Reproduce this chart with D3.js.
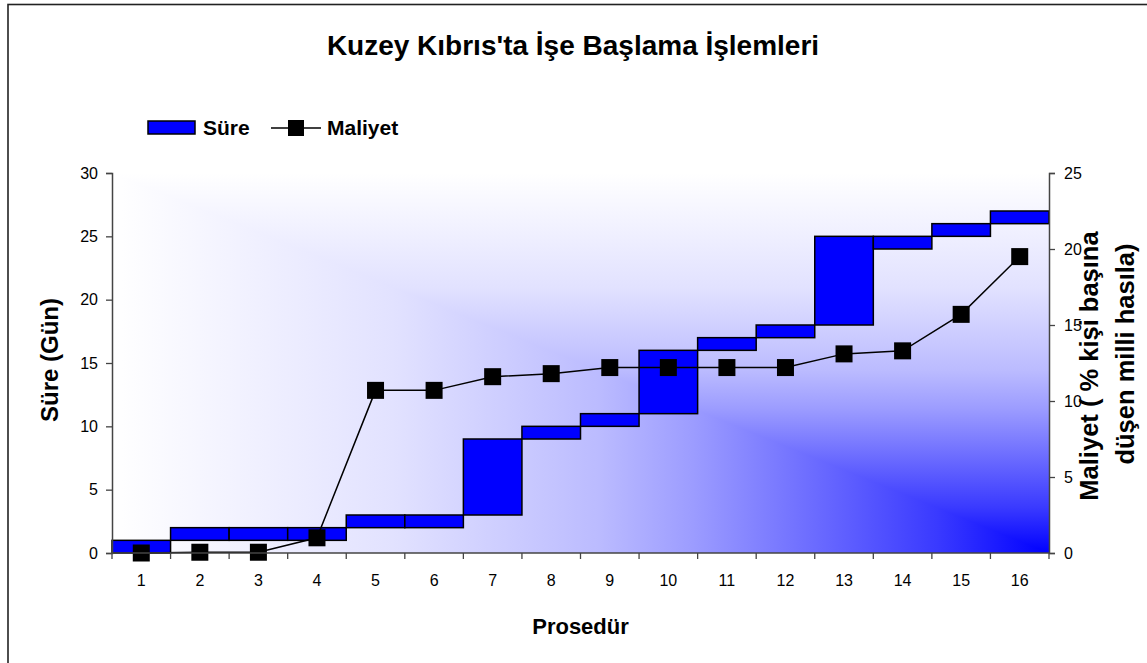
<!DOCTYPE html>
<html>
<head>
<meta charset="utf-8">
<script src="https://cdn.jsdelivr.net/npm/d3@7"></script>
<style>
  body { margin: 0; background: #fff; }
  svg { display: block; font-family: "Liberation Sans", Arial, sans-serif; }
</style>
</head>
<body>
<div id="chart"></div>
<script>
// procedures on the x axis
const categories = ["1","2","3","4","5","6","7","8","9","10","11","12","13","14","15","16"];
// Süre: each bar floats from start day to end day
const sureStart = [0, 1, 1, 1, 2, 2, 3, 9, 10, 11, 16, 17, 18, 24, 25, 26];
const sureEnd   = [1, 2, 2, 2, 3, 3, 9, 10, 11, 16, 17, 18, 25, 25, 26, 27];
// Maliyet (% of income per capita), right axis
const maliyet = [0, 0.05, 0.05, 1.0, 10.7, 10.7, 11.6, 11.8, 12.2, 12.2, 12.2, 12.2, 13.1, 13.3, 15.7, 19.5];
const leftTicks = [0, 5, 10, 15, 20, 25, 30];
const rightTicks = [0, 5, 10, 15, 20, 25];

const width = 1147, height = 663;
const plot = { left: 112, right: 1049, top: 173, bottom: 553 };

const svg = d3.select("#chart").append("svg")
  .attr("width", width)
  .attr("height", height);

// outer frame (only left & top edges visible)
svg.append("rect")
  .attr("x", 8).attr("y", 4.5)
  .attr("width", 1300).attr("height", 800)
  .attr("fill", "none")
  .attr("stroke", "#222")
  .attr("stroke-width", 1.6);

const x = d3.scaleBand().domain(categories).range([plot.left, plot.right]).padding(0);
const yLeft = d3.scaleLinear().domain([0, 30]).range([plot.bottom, plot.top]);
const yRight = d3.scaleLinear().domain([0, 25]).range([plot.bottom, plot.top]);

// corner gradient: white at top-left, blue at bottom-right
const defs = svg.append("defs");
const rampStops = [
  [0, "#ffffff"], [0.3, "#e2e2ff"], [0.52, "#bbbbff"],
  [0.62, "#9c9cff"], [0.88, "#3a3aff"], [1, "#0000ff"]
];
function addGrad(id, x1, y1, x2, y2) {
  const g = defs.append("linearGradient")
    .attr("id", id)
    .attr("gradientUnits", "userSpaceOnUse")
    .attr("x1", x1).attr("y1", y1).attr("x2", x2).attr("y2", y2);
  rampStops.forEach(s => g.append("stop").attr("offset", s[0]).attr("stop-color", s[1]));
}
addGrad("gradV", 0, plot.top, 0, plot.bottom);
addGrad("gradH", plot.left, 0, plot.right, 0);

svg.append("rect")
  .attr("x", plot.left).attr("y", plot.top)
  .attr("width", plot.right - plot.left)
  .attr("height", plot.bottom - plot.top)
  .attr("fill", "url(#gradV)");
svg.append("path")
  .attr("d", `M${plot.left},${plot.top}L${plot.right},${plot.bottom}L${plot.left},${plot.bottom}Z`)
  .attr("fill", "url(#gradH)");

// floating bars
svg.append("g").selectAll("rect")
  .data(categories)
  .join("rect")
  .attr("x", d => x(d))
  .attr("width", x.bandwidth())
  .attr("y", (d, i) => yLeft(sureEnd[i]))
  .attr("height", (d, i) => yLeft(sureStart[i]) - yLeft(sureEnd[i]))
  .attr("fill", "#0000ff")
  .attr("stroke", "#000")
  .attr("stroke-width", 1.5);

// cost line
const line = d3.line()
  .x((d, i) => x(categories[i]) + x.bandwidth() / 2)
  .y(d => yRight(d));
svg.append("path")
  .datum(maliyet)
  .attr("d", line)
  .attr("fill", "none")
  .attr("stroke", "#000")
  .attr("stroke-width", 1.5);

const mk = 17;
svg.append("g").selectAll("rect")
  .data(maliyet)
  .join("rect")
  .attr("x", (d, i) => x(categories[i]) + x.bandwidth() / 2 - mk / 2)
  .attr("y", d => yRight(d) - mk / 2)
  .attr("width", mk).attr("height", mk)
  .attr("fill", "#000");

// axes
const axisColor = "#444";
const gl = svg.append("g")
  .attr("transform", `translate(${plot.left},0)`)
  .call(d3.axisLeft(yLeft).tickValues(leftTicks).tickSize(6).tickPadding(8));
const gr = svg.append("g")
  .attr("transform", `translate(${plot.right},0)`)
  .call(d3.axisRight(yRight).tickValues(rightTicks).tickSize(6).tickPadding(9));
const gb = svg.append("g")
  .attr("transform", `translate(0,${plot.bottom})`)
  .call(d3.axisBottom(x).tickSize(0).tickPadding(22));

[gl, gr, gb].forEach(g => {
  g.select(".domain").attr("stroke", axisColor).attr("stroke-width", 1.5);
  g.selectAll(".tick line").attr("stroke", axisColor).attr("stroke-width", 1.3);
  g.selectAll("text")
    .attr("fill", "#000")
    .style("font-size", "16px")
    .style("font-family", "'Liberation Sans', Arial, sans-serif");
});
gb.select(".domain").attr("d", `M${plot.left},0H${plot.right}`);

// x ticks sit on the category boundaries
const bounds = categories.map(c => x(c)).concat([x(categories[categories.length - 1]) + x.bandwidth()]);
gb.selectAll(".bound")
  .data(bounds)
  .join("line")
  .attr("x1", d => d).attr("x2", d => d)
  .attr("y1", 0).attr("y2", 6)
  .attr("stroke", axisColor)
  .attr("stroke-width", 1.3);

// title & axis titles
svg.append("text")
  .attr("x", 573).attr("y", 55)
  .attr("text-anchor", "middle")
  .style("font-size", "28px").style("font-weight", "bold")
  .text("Kuzey Kıbrıs'ta İşe Başlama İşlemleri");

svg.append("text")
  .attr("x", (plot.left + plot.right) / 2).attr("y", 634)
  .attr("text-anchor", "middle")
  .style("font-size", "22px").style("font-weight", "bold")
  .text("Prosedür");

svg.append("text")
  .attr("transform", "translate(58,360) rotate(-90)")
  .attr("text-anchor", "middle")
  .style("font-size", "24px").style("font-weight", "bold")
  .text("Süre (Gün)");

svg.append("text")
  .attr("transform", "translate(1098,366) rotate(-90)")
  .attr("text-anchor", "middle")
  .style("font-size", "25.5px").style("font-weight", "bold")
  .text("Maliyet ( % kişi başına");
svg.append("text")
  .attr("transform", "translate(1134,354) rotate(-90)")
  .attr("text-anchor", "middle")
  .style("font-size", "25.5px").style("font-weight", "bold")
  .text("düşen milli hasıla)");

// legend
const leg = svg.append("g");
leg.append("rect")
  .attr("x", 148).attr("y", 121)
  .attr("width", 47).attr("height", 13)
  .attr("fill", "#0000ff").attr("stroke", "#000").attr("stroke-width", 1.5);
leg.append("text")
  .attr("x", 203).attr("y", 135)
  .style("font-size", "21px").style("font-weight", "bold")
  .text("Süre");
leg.append("line")
  .attr("x1", 271).attr("x2", 321).attr("y1", 128).attr("y2", 128)
  .attr("stroke", "#000").attr("stroke-width", 1.5);
leg.append("rect")
  .attr("x", 288).attr("y", 120).attr("width", 16).attr("height", 16)
  .attr("fill", "#000");
leg.append("text")
  .attr("x", 327).attr("y", 135)
  .style("font-size", "21px").style("font-weight", "bold")
  .text("Maliyet");
</script>
</body>
</html>
